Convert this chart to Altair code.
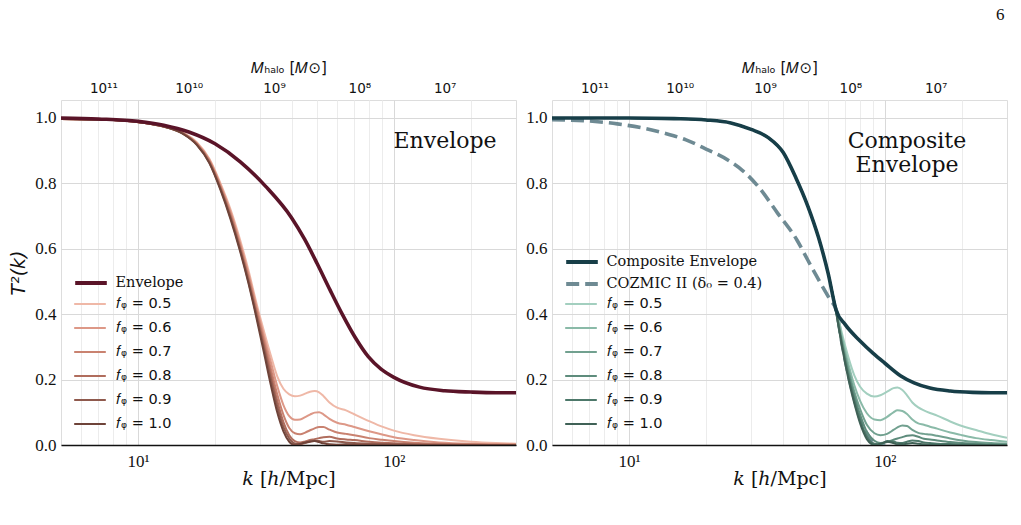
import altair as alt
import pandas as pd

# ---------------------------------------------------------------- data
K_DOMAIN = [5, 300]                       # k range [h/Mpc]
M_DOMAIN = [1.46e6, 3.14e11]              # halo mass at k = 300 and k = 5 (M ~ k^-3)
M_TICKS = [1e7, 1e8, 1e9, 1e10, 1e11]
K_GRID = [6, 7, 8, 9, 10, 20, 30, 40, 50, 60, 70, 80, 90, 100, 200]
Y_TICKS = [0.0, 0.2, 0.4, 0.6, 0.8, 1.0]

F_LABELS = ["𝑓ᵩ = 0.5", "𝑓ᵩ = 0.6", "𝑓ᵩ = 0.7", "𝑓ᵩ = 0.8", "𝑓ᵩ = 0.9", "𝑓ᵩ = 1.0"]

# left panel: envelope and f_phi curves
K_ENV = [5, 7, 10, 12.6, 15.8, 20, 25.1, 31.6, 39.8, 44.7, 50.1, 56.2, 63.1, 70.8, 79.4,
         89.1, 100, 126, 158, 200, 251, 300]
T_ENV = [1.0, 0.997, 0.99, 0.978, 0.957, 0.921, 0.866, 0.79, 0.695, 0.63, 0.555, 0.475,
         0.397, 0.327, 0.27, 0.232, 0.207, 0.177, 0.166, 0.162, 0.16, 0.16]

K_LEFT_F = [5, 8, 11, 13, 15, 17, 19, 21, 23, 25, 27, 29, 31, 33, 35, 37, 39, 41, 43, 45,
            47, 49, 51, 53, 56, 60, 65, 70, 80, 90, 100, 120, 150, 200, 250, 300]
T_LEFT_F05 = [0.997, 0.994, 0.983, 0.972, 0.955, 0.925, 0.875, 0.80, 0.72, 0.63, 0.535,
              0.435, 0.35, 0.275, 0.21, 0.172, 0.155, 0.149, 0.151, 0.157, 0.163, 0.165,
              0.161, 0.15, 0.13, 0.114, 0.106, 0.094, 0.073, 0.056, 0.044, 0.03, 0.019,
              0.01, 0.006, 0.004]
T_LEFT_F06 = [0.997, 0.994, 0.983, 0.972, 0.954, 0.923, 0.872, 0.795, 0.713, 0.62, 0.525,
              0.425, 0.335, 0.255, 0.18, 0.122, 0.088, 0.077, 0.078, 0.085, 0.093, 0.099,
              0.1, 0.094, 0.08, 0.068, 0.062, 0.055, 0.042, 0.032, 0.024, 0.015, 0.008,
              0.004, 0.003, 0.002]
T_LEFT_F07 = [0.997, 0.994, 0.983, 0.971, 0.953, 0.921, 0.869, 0.79, 0.706, 0.612, 0.515,
              0.415, 0.322, 0.235, 0.155, 0.092, 0.052, 0.036, 0.033, 0.038, 0.045, 0.051,
              0.055, 0.055, 0.047, 0.038, 0.034, 0.03, 0.021, 0.016, 0.012, 0.007, 0.004,
              0.002, 0.001, 0.001]
T_LEFT_F08 = [0.997, 0.994, 0.983, 0.971, 0.952, 0.919, 0.866, 0.786, 0.70, 0.605, 0.508,
              0.405, 0.31, 0.218, 0.135, 0.07, 0.03, 0.012, 0.008, 0.011, 0.015, 0.018,
              0.021, 0.024, 0.025, 0.02, 0.017, 0.015, 0.01, 0.007, 0.005, 0.003, 0.002,
              0.001, 0.0, 0.0]
T_LEFT_F09 = [0.997, 0.994, 0.983, 0.971, 0.952, 0.918, 0.864, 0.783, 0.695, 0.60, 0.50,
              0.397, 0.298, 0.203, 0.118, 0.055, 0.02, 0.005, 0.003, 0.006, 0.01, 0.013,
              0.012, 0.01, 0.012, 0.011, 0.008, 0.006, 0.004, 0.003, 0.002, 0.001, 0.0,
              0.0, 0.0, 0.0]
T_LEFT_F10 = [0.997, 0.994, 0.983, 0.971, 0.951, 0.917, 0.862, 0.78, 0.69, 0.595, 0.495,
              0.39, 0.285, 0.185, 0.10, 0.042, 0.01, 0.0, 0.003, 0.008, 0.011, 0.012,
              0.009, 0.005, 0.002, 0.001, 0.002, 0.001, 0.0, 0.0, 0.0, 0.0, 0.0, 0.0,
              0.0, 0.0]

# right panel: composite envelope, COZMIC II and f_phi curves
K_COMP = [5, 10, 15, 20, 25, 30, 35, 40, 45, 50, 55, 60, 64.5, 70, 80, 90, 100, 115,
          130, 150, 180, 220, 260, 300]
T_COMP = [1.0, 1.0, 0.998, 0.994, 0.985, 0.965, 0.94, 0.895, 0.815, 0.73, 0.635, 0.525,
          0.412, 0.368, 0.318, 0.28, 0.25, 0.212, 0.19, 0.174, 0.165, 0.161, 0.16, 0.16]

K_COZ = [5, 7.2, 9, 11.2, 14, 16.7, 20, 24.5, 27.7, 32, 38, 45.3, 50, 56, 61, 64.5, 68,
         72, 76, 80, 86, 92, 100]
T_COZ = [0.995, 0.99, 0.982, 0.97, 0.952, 0.933, 0.905, 0.87, 0.84, 0.79, 0.71, 0.627,
         0.565, 0.495, 0.445, 0.413, 0.31, 0.215, 0.14, 0.08, 0.03, 0.005, 0.0]

K_RIGHT_F = [5, 10, 15, 20, 25, 30, 35, 40, 45, 50, 55, 60, 64.5, 68, 72, 76, 80, 85, 91,
             96, 102, 108, 112, 117, 122, 128, 135, 142, 150, 160, 180, 200, 227, 260, 300]
T_RIGHT_HEAD = [1.0, 1.0, 0.998, 0.994, 0.985, 0.965, 0.94, 0.895, 0.815, 0.73, 0.635,
                0.525]
T_RIGHT_F05 = T_RIGHT_HEAD + [0.415, 0.34, 0.268, 0.212, 0.178, 0.157, 0.148, 0.152,
                              0.163, 0.174, 0.176, 0.168, 0.152, 0.13, 0.115, 0.106,
                              0.098, 0.09, 0.072, 0.058, 0.046, 0.033, 0.022]
T_RIGHT_F06 = T_RIGHT_HEAD + [0.412, 0.328, 0.248, 0.182, 0.135, 0.097, 0.078, 0.076,
                              0.086, 0.1, 0.106, 0.104, 0.095, 0.078, 0.066, 0.062,
                              0.056, 0.05, 0.038, 0.03, 0.021, 0.015, 0.01]
T_RIGHT_F07 = T_RIGHT_HEAD + [0.41, 0.318, 0.232, 0.162, 0.11, 0.062, 0.036, 0.03,
                              0.034, 0.046, 0.054, 0.06, 0.058, 0.046, 0.037, 0.034,
                              0.032, 0.028, 0.02, 0.014, 0.009, 0.006, 0.004]
T_RIGHT_F08 = T_RIGHT_HEAD + [0.408, 0.31, 0.22, 0.148, 0.092, 0.04, 0.013, 0.006,
                              0.009, 0.016, 0.02, 0.024, 0.028, 0.03, 0.025, 0.019,
                              0.017, 0.014, 0.009, 0.006, 0.004, 0.002, 0.001]
T_RIGHT_F09 = T_RIGHT_HEAD + [0.406, 0.305, 0.21, 0.136, 0.077, 0.026, 0.004, 0.002,
                              0.012, 0.011, 0.007, 0.006, 0.01, 0.014, 0.012, 0.008,
                              0.006, 0.004, 0.003, 0.002, 0.001, 0.0, 0.0]
T_RIGHT_F10 = T_RIGHT_HEAD + [0.404, 0.30, 0.202, 0.126, 0.066, 0.018, 0.0, 0.004, 0.01,
                              0.006, 0.002, 0.002, 0.004, 0.006, 0.004, 0.002, 0.001,
                              0.0, 0.0, 0.0, 0.0, 0.0, 0.0]

# ---------------------------------------------------------------- styles
RED_F = ["#efb8a7", "#dd9887", "#c98270", "#b06d5d", "#8f5a4d", "#6e4339"]
GREEN_F = ["#a3cfbf", "#8abaa8", "#71a08f", "#5e8c7c", "#4d786a", "#3f6156"]
ENV_COLOR = "#5a1428"
COMP_COLOR = "#173e48"
COZ_COLOR = "#6e8a93"
COZ_DASH = [13, 6]

SERIF = "DejaVu Serif"
TICK_SERIF = "Liberation Serif"
SANS = "DejaVu Sans"
PW, PH = 455, 345


def long_frame(k, series, labels, name):
    rows = []
    for vals, lab in zip(series, labels):
        for kk, tt in zip(k, vals):
            rows.append({"k": kk, "T": tt, name: lab})
    return pd.DataFrame(rows)


def legend(x, y, font, width, row_pad, label_offset, **extra):
    return alt.Legend(
        orient="none", legendX=x, legendY=y, title=None, padding=0,
        labelFont=font, labelFontSize=14.5, labelColor="#111",
        symbolType="stroke", symbolSize=1000, symbolStrokeWidth=width,
        rowPadding=row_pad, labelOffset=label_offset, **extra,
    )


x_k = alt.X(
    "k:Q",
    scale=alt.Scale(type="log", domain=K_DOMAIN, nice=False),
    axis=alt.Axis(
        orient="bottom", values=K_GRID, ticks=False,
        labelExpr="datum.value == 10 ? '10¹' : datum.value == 100 ? '10²' : ''",
        labelFont=TICK_SERIF, labelFontSize=17, labelColor="#111", labelPadding=8,
        title="𝑘 [ℎ/Mpc]", titleFont=SERIF, titleFontSize=19, titleFontWeight="normal",
        titleColor="#111", titlePadding=0,
        grid=True,
        gridColor={"condition": {"test": "datum.value == 10 || datum.value == 100",
                                 "value": "#d9d9d9"}, "value": "#ececec"},
        domainColor="#111", domainWidth=1.3,
    ),
)


def y_t(show_title):
    return alt.Y(
        "T:Q",
        scale=alt.Scale(domain=[0, 1.055], nice=False),
        axis=alt.Axis(
            values=Y_TICKS, format=".1f", ticks=False,
            labelFont=TICK_SERIF, labelFontSize=17, labelColor="#111", labelPadding=5,
            title="T²(k)" if show_title else None, titleFont=SANS, titleFontSize=19,
            titleFontStyle="italic", titleFontWeight="normal", titleColor="#111",
            titlePadding=6,
            grid=True, gridColor="#d9d9d9", domain=False,
        ),
    )


def top_axis():
    return alt.Chart(pd.DataFrame({"M": M_TICKS})).mark_point(opacity=0).encode(
        x=alt.X(
            "M:Q",
            scale=alt.Scale(type="log", domain=M_DOMAIN, reverse=True, nice=False),
            axis=alt.Axis(
                orient="top", values=M_TICKS, grid=False, ticks=False, domain=False,
                labelExpr=("datum.value > 5e10 ? '10¹¹' : datum.value > 5e9 ? '10¹⁰' : "
                           "datum.value > 5e8 ? '10⁹' : datum.value > 5e7 ? '10⁸' : '10⁷'"),
                labelFont=SANS, labelFontSize=13.5, labelColor="#111", labelPadding=5,
                title="𝑀ₕₐₗₒ [𝑀⊙]", titleFont=SANS, titleFontSize=15,
                titleFontWeight="normal", titleColor="#111", titlePadding=6,
            ),
        )
    )


def annotation(text, x, y):
    return alt.Chart(pd.DataFrame({"t": [text]})).mark_text(
        font=SERIF, fontSize=22, color="#111", align="center", baseline="middle",
        lineBreak="\n", lineHeight=24,
    ).encode(text="t:N", x=alt.value(x), y=alt.value(y))


def f_lines(df, colors, show_title):
    return alt.Chart(df).mark_line(strokeWidth=2, interpolate="monotone", clip=True).encode(
        x=x_k, y=y_t(show_title),
        color=alt.Color("f:N", scale=alt.Scale(domain=F_LABELS, range=colors),
                        legend=legend(12, 187, SANS, 2, -0.5, 9)),
        order=alt.Order("f:N"),
    )


# ---------------------------------------------------------------- left panel
left_f = long_frame(K_LEFT_F, [T_LEFT_F05, T_LEFT_F06, T_LEFT_F07, T_LEFT_F08,
                               T_LEFT_F09, T_LEFT_F10], F_LABELS, "f")
left_env = pd.DataFrame({"k": K_ENV, "T": T_ENV, "env": "Envelope"})

env_line = alt.Chart(left_env).mark_line(strokeWidth=3.6, interpolate="monotone", clip=True).encode(
    x=x_k, y=y_t(True),
    stroke=alt.Stroke("env:N", scale=alt.Scale(domain=["Envelope"], range=[ENV_COLOR]),
                      legend=legend(12, 165, SERIF, 4, 0, 6.5)),
)

left_core = alt.layer(f_lines(left_f, RED_F, True), env_line,
                      annotation("Envelope", 384, 41))
left = alt.layer(left_core, top_axis()).resolve_scale(x="independent").properties(
    width=PW, height=PH
)

# ---------------------------------------------------------------- right panel
COMP_LABEL = "Composite Envelope"
COZ_LABEL = "COZMIC II (δ₀ = 0.4)"
right_f = long_frame(K_RIGHT_F, [T_RIGHT_F05, T_RIGHT_F06, T_RIGHT_F07, T_RIGHT_F08,
                                 T_RIGHT_F09, T_RIGHT_F10], F_LABELS, "f")
comp_df = pd.DataFrame({"k": K_COMP, "T": T_COMP, "env": COMP_LABEL})
coz_df = pd.DataFrame({"k": K_COZ, "T": T_COZ, "coz": COZ_LABEL})

coz_line = alt.Chart(coz_df).mark_line(
    strokeWidth=3.6, interpolate="monotone", clip=True, color=COZ_COLOR
).encode(
    x=x_k, y=y_t(False),
    strokeDash=alt.StrokeDash(
        "coz:N", scale=alt.Scale(domain=[COZ_LABEL], range=[COZ_DASH]),
        legend=legend(12, 166, SERIF, 4, 0, 6.5, symbolStrokeColor=COZ_COLOR),
    ),
)
comp_line = alt.Chart(comp_df).mark_line(strokeWidth=3.6, interpolate="monotone", clip=True).encode(
    x=x_k, y=y_t(False),
    stroke=alt.Stroke("env:N", scale=alt.Scale(domain=[COMP_LABEL], range=[COMP_COLOR]),
                      legend=legend(12, 144, SERIF, 4, 0, 6.5)),
)

right_core = alt.layer(coz_line, f_lines(right_f, GREEN_F, False), comp_line,
                       annotation("Composite\nEnvelope", 355, 41))
right = alt.layer(right_core, top_axis()).resolve_scale(x="independent").properties(
    width=PW, height=PH
)

chart = (
    alt.hconcat(left, right, spacing=8)
    .resolve_scale(color="independent", stroke="independent", strokeDash="independent")
    .resolve_legend(color="independent", stroke="independent", strokeDash="independent")
    .properties(
        title=alt.TitleParams("6", anchor="end", font=TICK_SERIF, fontSize=17,
                              fontWeight="normal", color="#111", offset=36, dx=-3),
        padding={"left": 9, "top": 5, "right": 5, "bottom": 5},
    )
    .configure_view(stroke="#7a7a7a", strokeWidth=1.2)
    .configure(background="white")
)

chart.save("out.html", embed_options={"renderer": "svg", "actions": False})
